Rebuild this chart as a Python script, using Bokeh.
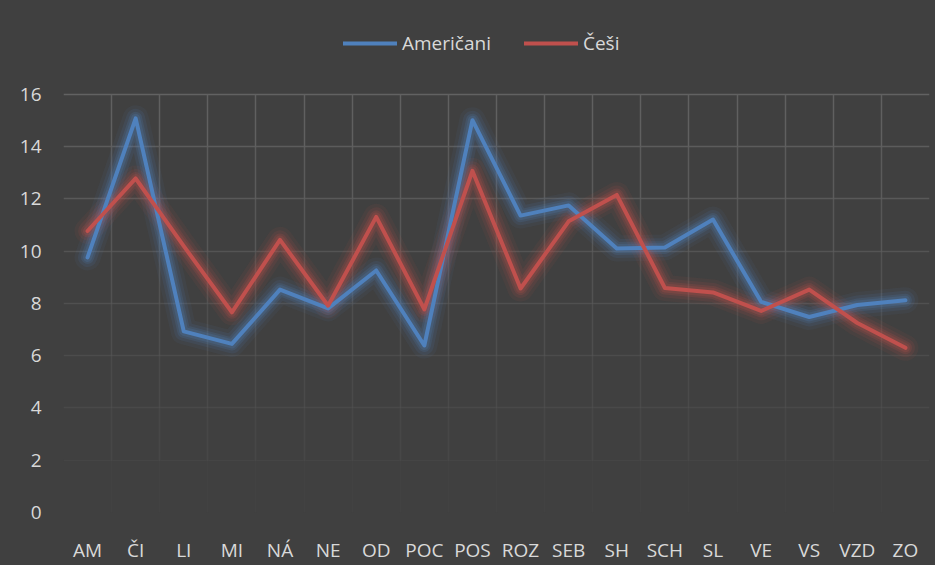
from bokeh.plotting import figure
from bokeh.models import (FixedTicker, Grid, Legend, LegendItem, Range1d)
from bokeh.embed import file_html
from bokeh.resources import INLINE

categories = ["AM", "ČI", "LI", "MI", "NÁ", "NE", "OD", "POC", "POS", "ROZ",
              "SEB", "SH", "SCH", "SL", "VE", "VS", "VZD", "ZO"]
americani = [9.76, 15.08, 6.93, 6.45, 8.53, 7.81, 9.26, 6.39, 15.01, 11.36,
             11.75, 10.10, 10.14, 11.21, 8.06, 7.48, 7.94, 8.12]
cesi = [10.77, 12.78, 10.19, 7.66, 10.43, 7.91, 11.31, 7.77, 13.07, 8.57,
        11.14, 12.15, 8.59, 8.42, 7.71, 8.53, 7.25, 6.30]
y_ticks = [0, 2, 4, 6, 8, 10, 12, 14, 16]

BG = "#404040"
TXT = "#d9d9d9"
GRID = "#626262"
BLUE = "#4f81bd"
RED = "#c0504d"
FONT = "Open Sans"
FS = "19px"

n = len(categories)
xs = [i + 0.5 for i in range(n)]

# the frame is extended upward (beyond 16) to hold the legend; grids stop at 16
p = figure(width=935, height=565, output_backend="svg", toolbar_location=None,
           x_range=Range1d(0, n), y_range=Range1d(0, 19.13),
           min_border_left=63, min_border_top=12, min_border_right=6,
           min_border_bottom=46, outline_line_color=None,
           background_fill_color=BG, border_fill_color=BG)
p.styles = {"background-color": BG}
p.xgrid.visible = False
p.ygrid.visible = False

# fading gridlines (strong at top, vanishing toward 0)
alphas = {16: 1.0, 14: 0.85, 12: 0.72, 10: 0.6, 8: 0.48, 6: 0.36, 4: 0.25, 2: 0.15, 0: 0.0}
for v in y_ticks:
    g = Grid(dimension=1, ticker=FixedTicker(ticks=[v]), bounds=(-1, 20),
             grid_line_color=GRID, grid_line_alpha=alphas[v], grid_line_width=1.5)
    p.add_layout(g)
for lo in range(0, 16, 2):
    g = Grid(dimension=0, ticker=FixedTicker(ticks=list(range(n + 1))),
             bounds=(-1, n + 1), cross_bounds=(lo, lo + 2), grid_line_color=GRID,
             grid_line_alpha=(alphas[lo] + alphas[lo + 2]) / 2, grid_line_width=1.5)
    p.add_layout(g)

# axes
p.xaxis.ticker = FixedTicker(ticks=xs)
p.xaxis.major_label_overrides = {x: c for x, c in zip(xs, categories)}
p.yaxis.ticker = FixedTicker(ticks=y_ticks)
for ax in (p.xaxis[0], p.yaxis[0]):
    ax.axis_line_color = None
    ax.major_tick_line_color = None
    ax.minor_tick_line_color = None
    ax.major_label_text_color = TXT
    ax.major_label_text_font = FONT
    ax.major_label_text_font_size = FS
p.yaxis.major_label_standoff = 16
p.xaxis.major_label_standoff = 18

# glow layers
for w, a in [(26, 0.07), (19, 0.11), (13, 0.16), (9, 0.2)]:
    p.line(xs, americani, line_color=BLUE, line_width=w, line_alpha=a, line_join="round", line_cap="round")
    p.line(xs, cesi, line_color=RED, line_width=w, line_alpha=a, line_join="round", line_cap="round")

r_a = p.line(xs, americani, line_color=BLUE, line_width=4, line_join="round", line_cap="round")
r_c = p.line(xs, cesi, line_color=RED, line_width=4, line_join="round", line_cap="round")

legend = Legend(items=[LegendItem(label="Američani", renderers=[r_a]),
                       LegendItem(label="Češi", renderers=[r_c])],
                orientation="horizontal", location=(280, 456),
                background_fill_alpha=0, border_line_color=None,
                label_text_color=TXT, label_text_font=FONT, label_text_font_size=FS,
                glyph_width=54, glyph_height=20, label_standoff=5, spacing=33,
                padding=0, margin=0)
p.add_layout(legend, "center")

open("out.html", "w").write(file_html(p, INLINE))
